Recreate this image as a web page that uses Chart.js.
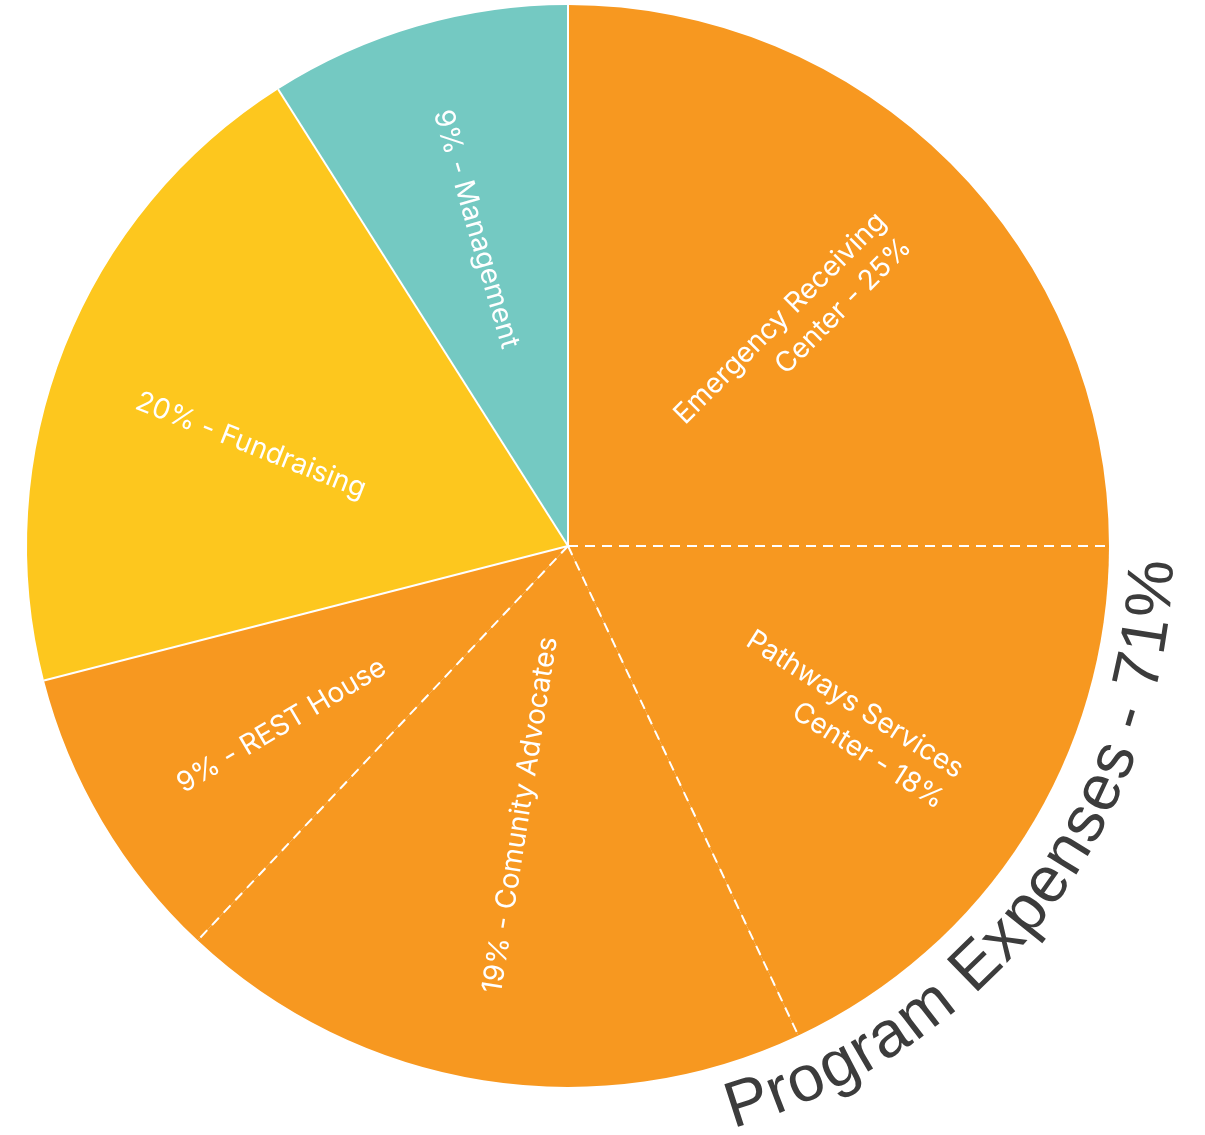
<!DOCTYPE html>
<html>
<head>
<meta charset="utf-8">
<script src="https://cdn.jsdelivr.net/npm/chart.js@4.4.1/dist/chart.umd.min.js"></script>
<style>
  html, body { margin: 0; padding: 0; background: #ffffff; }
  #wrap { width: 1205px; height: 1135px; }
</style>
</head>
<body>
<div id="wrap"><canvas id="c" width="1205" height="1135"></canvas></div>
<script>
// ---- data ----
const categories = ['Emergency Receiving Center', 'Pathways Services Center', 'Comunity Advocates', 'REST House', 'Fundraising', 'Management'];
const values = [25, 18, 19, 9, 20, 9];
const sliceLabels = [
  ['Emergency Receiving', 'Center - 25%'],
  ['Pathways Services', 'Center - 18%'],
  ['19% - Comunity Advocates'],
  ['9% - REST House'],
  ['20% - Fundraising'],
  ['9% - Management']
];
const groupMembers = [true, true, true, true, false, false];
const groupTitle = 'Program Expenses - 71%';

// ---- styles ----
const ORANGE = '#F79820', YELLOW = '#FDC71E', TEAL = '#74C9C2';
const sliceColors = [ORANGE, ORANGE, ORANGE, ORANGE, YELLOW, TEAL];
const labelRadiusFrac = [0.575, 0.605, 0.505, 0.625, 0.615, 0.61];
const labelAngleShiftDeg = [1.3, -0.3, 1, -1.5, -4, 0];

const decorPlugin = {
  id: 'decor',
  afterDatasetsDraw(chart) {
    const ctx = chart.ctx;
    const meta = chart.getDatasetMeta(0);
    const colors = chart.data.datasets[0].backgroundColor;
    const n = meta.data.length;
    ctx.save();
    // separators
    meta.data.forEach((arc, i) => {
      const prev = (i - 1 + n) % n;
      const same = colors[i] === colors[prev];
      const p = arc.getProps(['x', 'y', 'startAngle', 'outerRadius'], true);
      ctx.beginPath();
      ctx.setLineDash(same ? [10, 7] : []);
      ctx.lineWidth = 2;
      ctx.strokeStyle = '#ffffff';
      ctx.moveTo(p.x, p.y);
      ctx.lineTo(p.x + p.outerRadius * Math.cos(p.startAngle), p.y + p.outerRadius * Math.sin(p.startAngle));
      ctx.stroke();
    });
    ctx.setLineDash([]);
    // slice labels
    ctx.fillStyle = '#ffffff';
    ctx.font = '28px Inter';
    ctx.textBaseline = 'middle';
    meta.data.forEach((arc, i) => {
      const p = arc.getProps(['x', 'y', 'startAngle', 'endAngle', 'outerRadius'], true);
      const mid = (p.startAngle + p.endAngle) / 2;
      const pos = mid + labelAngleShiftDeg[i] * Math.PI / 180;
      const r = p.outerRadius * labelRadiusFrac[i];
      let rot = mid;
      if (Math.cos(mid) < 0) rot += Math.PI;
      const lines = sliceLabels[i];
      const lh = 36;
      const maxW = Math.max(...lines.map(t => ctx.measureText(t).width));
      ctx.save();
      ctx.translate(p.x + r * Math.cos(pos), p.y + r * Math.sin(pos));
      ctx.rotate(rot);
      ctx.textAlign = 'right';
      lines.forEach((t, k) => {
        ctx.fillText(t, maxW / 2, (k - (lines.length - 1) / 2) * lh);
      });
      ctx.restore();
    });
    // curved group title
    let gs = null, ge = null, cx = 0, cy = 0, R = 0;
    meta.data.forEach((arc, i) => {
      const p = arc.getProps(['x', 'y', 'startAngle', 'endAngle', 'outerRadius'], true);
      cx = p.x; cy = p.y; R = p.outerRadius;
      if (groupMembers[i]) {
        if (gs === null) gs = p.startAngle;
        ge = p.endAngle;
      }
    });
    const center = (gs + ge) / 2;
    const rb = R + 64;
    ctx.font = '65px "Liberation Sans"';
    ctx.fillStyle = '#3c3c3c';
    ctx.textAlign = 'center';
    ctx.textBaseline = 'alphabetic';
    const chars = Array.from(groupTitle);
    const widths = chars.map(ch => ctx.measureText(ch).width);
    const total = widths.reduce((a, b) => a + b, 0);
    const rs = rb - 23;
    let ang = center + (total / 2) / rs;
    chars.forEach((ch, k) => {
      const a = ang - (widths[k] / 2) / rs;
      ctx.save();
      ctx.translate(cx + rb * Math.cos(a), cy + rb * Math.sin(a));
      ctx.rotate(a - Math.PI / 2);
      ctx.fillText(ch, 0, 0);
      ctx.restore();
      ang -= widths[k] / rs;
    });
    ctx.restore();
  }
};

new Chart(document.getElementById('c'), {
  type: 'pie',
  data: {
    labels: categories,
    datasets: [{
      data: values,
      backgroundColor: sliceColors,
      borderWidth: 0
    }]
  },
  options: {
    responsive: false,
    animation: false,
    layout: { padding: { left: 27, right: 96, top: 5, bottom: 48 } },
    plugins: {
      legend: { display: false },
      tooltip: { enabled: false }
    }
  },
  plugins: [decorPlugin]
});
</script>
</body>
</html>
